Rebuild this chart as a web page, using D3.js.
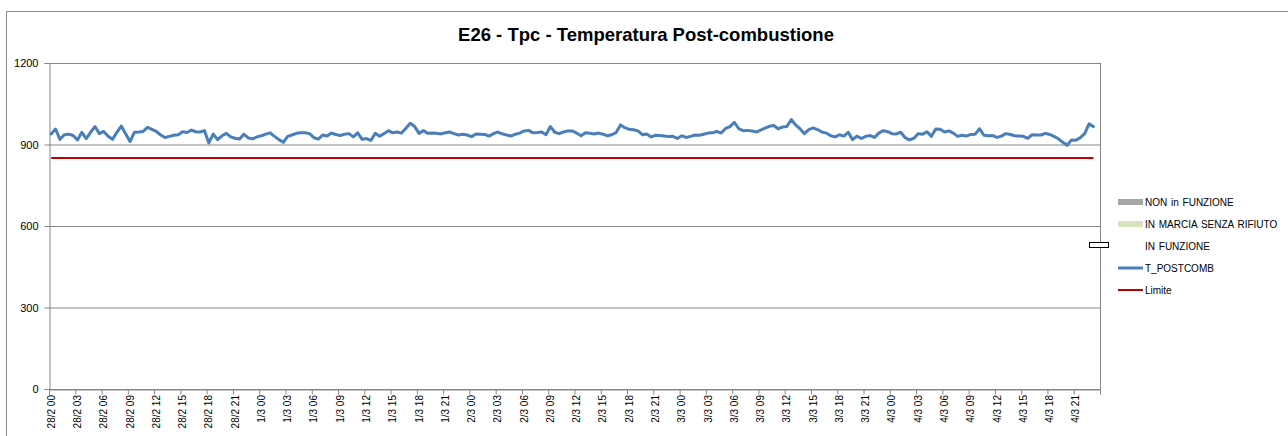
<!DOCTYPE html>
<html>
<head>
<meta charset="utf-8">
<script src="https://cdn.jsdelivr.net/npm/d3@7"></script>
<style>
  body { margin: 0; background: #fff; }
  svg { display: block; font-family: "Liberation Sans", Arial, sans-serif; }
</style>
</head>
<body>
<svg width="1288" height="436"></svg>
<script>
// data: half-hourly samples, 28/2 00:00 -> 4/3 23:00
var days = ["28/2", "1/3", "2/3", "3/3", "4/3"];
var yTicks = [0, 300, 600, 900, 1200];
var limite = 850;
var tPostcomb = [
  939, 957, 919, 936, 938, 933, 917, 945, 922, 945, 966, 940,
  948, 930, 919, 945, 968, 940, 911, 945, 946, 948, 963, 956,
  948, 935, 926, 930, 934, 936, 947, 944, 953, 947, 946, 951,
  906, 938, 918, 932, 941, 928, 923, 920, 938, 924, 921, 928,
  932, 938, 943, 930, 918, 908, 930, 935, 941, 943, 943, 940,
  925, 920, 935, 931, 942, 937, 933, 938, 940, 928, 943, 919,
  922, 915, 941, 930, 940, 951, 943, 946, 942, 960, 978, 966,
  941, 951, 941, 942, 941, 939, 943, 946, 940, 935, 938, 935,
  929, 939, 938, 937, 931, 940, 946, 939, 935, 931, 938, 942,
  950, 952, 943, 944, 946, 936, 966, 945, 940, 946, 950, 950,
  942, 932, 943, 941, 939, 942, 938, 932, 936, 944, 972, 962,
  956, 954, 950, 936, 939, 928, 934, 933, 931, 929, 930, 922,
  932, 926, 930, 935, 934, 938, 942, 943, 948, 942, 959, 966,
  982, 958, 951, 952, 950, 946, 953, 960, 967, 970, 958, 964,
  966, 992, 972, 958, 940, 955, 961, 955, 946, 942, 932, 928,
  936, 931, 945, 918, 931, 922, 930, 933, 926, 942, 951, 947,
  940, 939, 945, 925, 917, 923, 940, 938, 947, 930, 957, 956,
  946, 950, 942, 930, 934, 931, 937, 938, 958, 934, 932, 933,
  926, 931, 940, 937, 932, 931, 930, 923, 936, 935, 935, 941,
  937, 930, 921, 908, 897, 917, 916, 925, 940, 976, 966
];
var legendItems = [
  {name: "NON in FUNZIONE", type: "rect", color: "#a6a6a6"},
  {name: "IN MARCIA SENZA RIFIUTO", type: "rect", color: "#d7e4bd"},
  {name: "IN FUNZIONE", type: "rect", color: "#ffffff"},
  {name: "T_POSTCOMB", type: "line", color: "#4a7ebb", w: 3},
  {name: "Limite", type: "line", color: "#c00000", w: 2}
];

var categories = [];
days.forEach(function(d) {
  for (var h = 0; h < 24; h++) {
    var hh = (h < 10 ? "0" : "") + h;
    categories.push(d + " " + hh + ":00");
    categories.push(d + " " + hh + ":30");
  }
});

var svg = d3.select("svg");
var plotL = 49, plotR = 1100, plotT = 63, plotB = 389;
var grey = "#868686";

// outer chart border
svg.append("rect")
  .attr("x", 6.5).attr("y", 11.5)
  .attr("width", 1300).attr("height", 440)
  .attr("fill", "none").attr("stroke", "#8c8c8c");

svg.append("text")
  .attr("x", 646).attr("y", 41)
  .attr("text-anchor", "middle")
  .style("font-size", "18.5px").style("font-weight", "bold")
  .text("E26 - Tpc - Temperatura Post-combustione");

var x = d3.scaleBand().domain(categories).range([plotL, plotR]).padding(0);
var xi = d3.scaleLinear().domain([0, categories.length]).range([plotL, plotR]);
var y = d3.scaleLinear().domain([0, 1200]).range([plotB, plotT]);

// gridlines
svg.append("g")
  .attr("transform", "translate(" + plotL + ",0)")
  .call(d3.axisLeft(y).tickValues(yTicks).tickSize(-(plotR - plotL)).tickFormat(""))
  .call(function(g) {
    g.select(".domain").remove();
    g.selectAll("line").attr("stroke", grey);
  });

// plot right border
svg.append("line")
  .attr("x1", plotR + 0.5).attr("x2", plotR + 0.5)
  .attr("y1", plotT).attr("y2", plotB)
  .attr("stroke", grey);

// y axis
svg.append("g")
  .attr("transform", "translate(" + (plotL + 0.5) + ",0)")
  .call(d3.axisLeft(y).tickValues(yTicks).tickSize(5).tickPadding(6).tickFormat(d3.format("d")))
  .call(function(g) {
    g.select(".domain").attr("stroke", grey);
    g.selectAll("line").attr("stroke", grey);
    g.selectAll("text").style("font-size", "11px").attr("fill", "#000");
  });

// x axis tick marks at category boundaries
svg.append("g")
  .attr("transform", "translate(0," + (plotB + 0.5) + ")")
  .call(d3.axisBottom(xi).tickValues(d3.range(0, categories.length + 1, 6)).tickSize(5).tickFormat(""))
  .call(function(g) {
    g.select(".domain").attr("stroke", grey);
    g.selectAll("line").attr("stroke", grey);
  });

// x labels, every 3 hours
var labelled = categories.filter(function(c, i) { return i % 6 === 0; });
svg.append("g")
  .attr("transform", "translate(0," + plotB + ")")
  .call(d3.axisBottom(x).tickValues(labelled).tickSize(0)
    .tickFormat(function(c) { return c.slice(0, -3); }))
  .call(function(g) {
    g.select(".domain").remove();
    g.selectAll("text")
      .attr("transform", "rotate(-90)")
      .attr("x", -6).attr("y", 0).attr("dy", "0.35em")
      .style("text-anchor", "end")
      .style("font-size", "10px")
      .attr("fill", "#000");
  });

var cx = function(d, i) { return x(categories[i]) + x.bandwidth() / 2; };

svg.append("path")
  .datum(tPostcomb)
  .attr("fill", "none")
  .attr("stroke", "#c00000")
  .attr("stroke-width", 2)
  .attr("d", d3.line().x(cx).y(function() { return y(limite); }));

svg.append("path")
  .datum(tPostcomb)
  .attr("fill", "none")
  .attr("stroke", "#4a7ebb")
  .attr("stroke-width", 3)
  .attr("stroke-linejoin", "round")
  .attr("stroke-linecap", "round")
  .attr("d", d3.line().x(cx).y(function(d) { return y(d); }));

// small stray marker on right border
svg.append("rect")
  .attr("x", 1089.5).attr("y", 242.5)
  .attr("width", 19).attr("height", 5)
  .attr("fill", "#fff").attr("stroke", "#000");

// legend
var lg = svg.append("g").attr("transform", "translate(1118,202)");
var row = lg.selectAll("g").data(legendItems).enter().append("g")
  .attr("transform", function(d, i) { return "translate(0," + (i * 22) + ")"; });
row.filter(function(d) { return d.type === "rect"; })
  .append("rect")
  .attr("x", 0).attr("y", -3).attr("width", 25).attr("height", 6)
  .attr("fill", function(d) { return d.color; });
row.filter(function(d) { return d.type === "line"; })
  .append("line")
  .attr("x1", 0).attr("x2", 25).attr("y1", 0).attr("y2", 0)
  .attr("stroke", function(d) { return d.color; })
  .attr("stroke-width", function(d) { return d.w; });
row.append("text")
  .attr("x", 27).attr("dy", "0.35em")
  .style("font-size", "10px")
  .style("word-spacing", "1px")
  .text(function(d) { return d.name; });
</script>
</body>
</html>
